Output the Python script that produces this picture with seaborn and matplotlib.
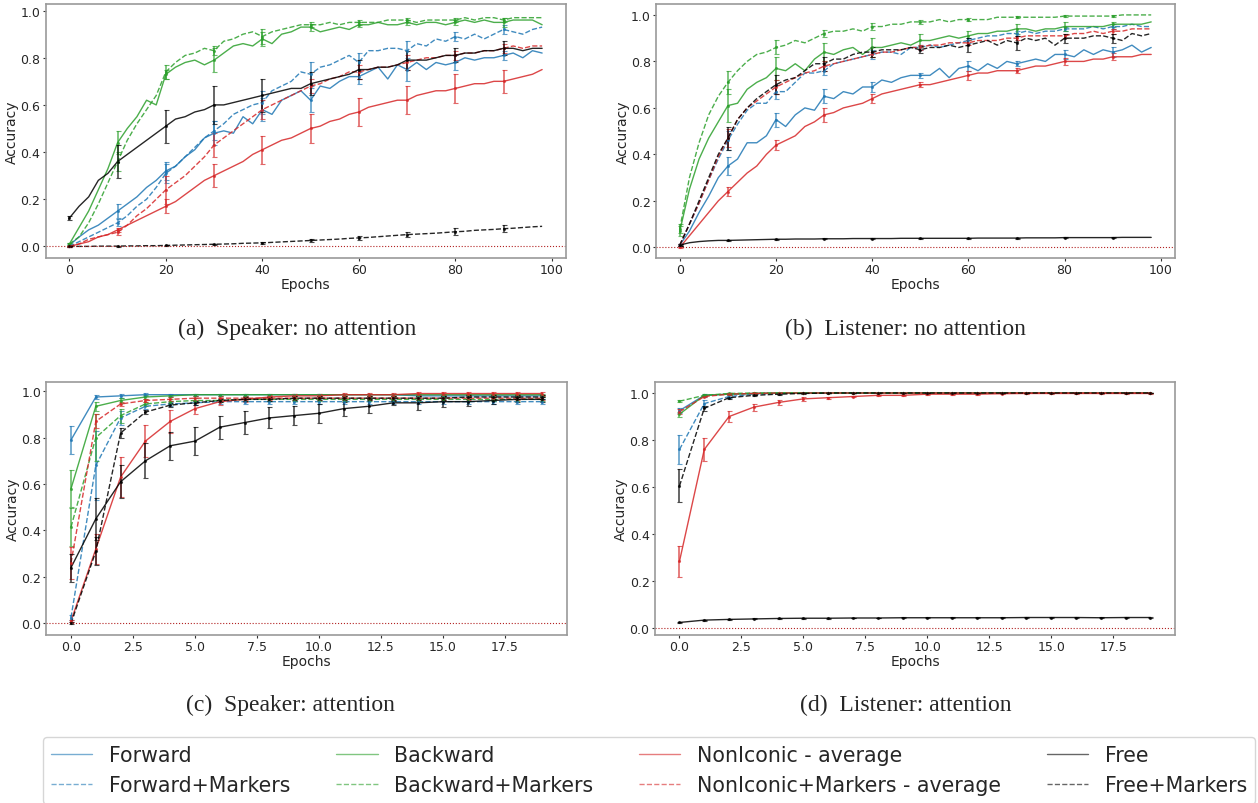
import numpy as np
import matplotlib
matplotlib.use('Agg')
import matplotlib.pyplot as plt
from matplotlib.lines import Line2D
import seaborn as sns

# ---- data ----
# panels (a)/(b): 100 epochs, sampled every 2 epochs; error bars every 10 epochs
epochs_long = np.arange(0, 100, 2)
bar_epochs_long = np.arange(0, 100, 10)
# panels (c)/(d): 20 epochs, error bars every epoch
epochs_short = np.arange(20)

# (a) Speaker: no attention
fwd_a = [0.005, 0.04, 0.07, 0.09, 0.12, 0.15, 0.18, 0.21, 0.25, 0.28,
         0.32, 0.34, 0.38, 0.41, 0.46, 0.48, 0.49, 0.48, 0.55, 0.52,
         0.58, 0.56, 0.62, 0.64, 0.66, 0.62, 0.68, 0.67, 0.70, 0.72,
         0.72, 0.74, 0.76, 0.71, 0.77, 0.75, 0.78, 0.75, 0.78, 0.77,
         0.78, 0.80, 0.79, 0.80, 0.80, 0.81, 0.82, 0.80, 0.83, 0.82]
fwdm_a = [0.0, 0.02, 0.04, 0.06, 0.08, 0.10, 0.13, 0.17, 0.20, 0.25,
          0.31, 0.34, 0.38, 0.42, 0.46, 0.49, 0.52, 0.56, 0.58, 0.60,
          0.61, 0.66, 0.68, 0.70, 0.74, 0.73, 0.76, 0.77, 0.79, 0.81,
          0.78, 0.83, 0.83, 0.84, 0.84, 0.83, 0.86, 0.85, 0.88, 0.87,
          0.89, 0.88, 0.90, 0.88, 0.90, 0.92, 0.91, 0.90, 0.92, 0.93]
bwd_a = [0.01, 0.08, 0.15, 0.24, 0.33, 0.44, 0.50, 0.55, 0.62, 0.60,
         0.73, 0.76, 0.78, 0.79, 0.77, 0.79, 0.82, 0.85, 0.86, 0.85,
         0.88, 0.86, 0.90, 0.91, 0.93, 0.93, 0.91, 0.92, 0.93, 0.92,
         0.94, 0.94, 0.95, 0.94, 0.94, 0.95, 0.94, 0.95, 0.95, 0.94,
         0.95, 0.96, 0.95, 0.96, 0.95, 0.95, 0.96, 0.96, 0.96, 0.94]
bwdm_a = [0.01, 0.04, 0.10, 0.18, 0.27, 0.36, 0.45, 0.52, 0.58, 0.64,
          0.74, 0.78, 0.81, 0.82, 0.84, 0.83, 0.87, 0.88, 0.90, 0.91,
          0.89, 0.91, 0.92, 0.93, 0.94, 0.94, 0.94, 0.95, 0.94, 0.95,
          0.95, 0.95, 0.95, 0.96, 0.96, 0.96, 0.95, 0.96, 0.96, 0.96,
          0.96, 0.97, 0.96, 0.97, 0.97, 0.96, 0.97, 0.97, 0.97, 0.97]
non_a = [0.0, 0.01, 0.02, 0.04, 0.05, 0.07, 0.09, 0.11, 0.13, 0.15,
         0.17, 0.19, 0.22, 0.25, 0.28, 0.30, 0.32, 0.34, 0.36, 0.39,
         0.41, 0.43, 0.45, 0.46, 0.48, 0.50, 0.51, 0.53, 0.54, 0.56,
         0.57, 0.59, 0.60, 0.61, 0.62, 0.62, 0.64, 0.65, 0.66, 0.66,
         0.67, 0.68, 0.69, 0.69, 0.70, 0.70, 0.71, 0.72, 0.73, 0.75]
nonm_a = [0.0, 0.01, 0.03, 0.04, 0.05, 0.06, 0.09, 0.13, 0.16, 0.20,
          0.24, 0.27, 0.30, 0.34, 0.38, 0.43, 0.46, 0.49, 0.52, 0.55,
          0.58, 0.60, 0.62, 0.64, 0.66, 0.68, 0.69, 0.71, 0.72, 0.74,
          0.74, 0.75, 0.76, 0.76, 0.77, 0.78, 0.79, 0.80, 0.80, 0.81,
          0.81, 0.82, 0.82, 0.83, 0.83, 0.84, 0.85, 0.84, 0.85, 0.85]
free_a = [0.12, 0.17, 0.21, 0.28, 0.31, 0.36, 0.39, 0.42, 0.45, 0.48,
          0.51, 0.54, 0.55, 0.57, 0.58, 0.60, 0.60, 0.61, 0.62, 0.63,
          0.64, 0.65, 0.66, 0.67, 0.67, 0.69, 0.70, 0.71, 0.72, 0.73,
          0.75, 0.75, 0.76, 0.76, 0.77, 0.79, 0.79, 0.79, 0.80, 0.81,
          0.81, 0.82, 0.82, 0.83, 0.83, 0.84, 0.84, 0.83, 0.84, 0.84]
freem_a = [0.0, 0.0, 0.0, 0.001, 0.001, 0.001, 0.002, 0.002, 0.003, 0.003,
           0.004, 0.005, 0.006, 0.007, 0.008, 0.009, 0.010, 0.011, 0.013, 0.014,
           0.015, 0.017, 0.019, 0.021, 0.023, 0.025, 0.027, 0.029, 0.031, 0.034,
           0.036, 0.038, 0.041, 0.044, 0.047, 0.050, 0.052, 0.054, 0.056, 0.059,
           0.062, 0.064, 0.068, 0.070, 0.072, 0.075, 0.077, 0.080, 0.083, 0.085]

fwd_a_err = [0.003, 0.03, 0.04, 0.05, 0.05, 0.05, 0.03, 0.05, 0.03, 0.02]
fwdm_a_err = [0.003, 0.015, 0.04, 0.04, 0.05, 0.05, 0.04, 0.04, 0.02, 0.02]
bwd_a_err = [0.005, 0.05, 0.02, 0.05, 0.03, 0.015, 0.01, 0.01, 0.01, 0.02]
bwdm_a_err = [0.005, 0.04, 0.03, 0.02, 0.03, 0.01, 0.01, 0.01, 0.01, 0.01]
non_a_err = [0.002, 0.01, 0.03, 0.05, 0.06, 0.06, 0.06, 0.06, 0.06, 0.05]
nonm_a_err = [0.002, 0.01, 0.06, 0.05, 0.04, 0.03, 0.03, 0.03, 0.02, 0.02]
free_a_err = [0.01, 0.07, 0.07, 0.08, 0.07, 0.05, 0.04, 0.04, 0.03, 0.03]
freem_a_err = [0.002, 0.002, 0.002, 0.003, 0.004, 0.005, 0.008, 0.01, 0.015, 0.015]

# (b) Listener: no attention
fwd_b = [0.01, 0.07, 0.15, 0.22, 0.30, 0.35, 0.38, 0.45, 0.45, 0.48,
         0.55, 0.52, 0.57, 0.60, 0.59, 0.65, 0.64, 0.67, 0.66, 0.69,
         0.69, 0.72, 0.71, 0.73, 0.74, 0.74, 0.74, 0.77, 0.73, 0.77,
         0.78, 0.76, 0.79, 0.77, 0.80, 0.79, 0.80, 0.81, 0.80, 0.83,
         0.83, 0.82, 0.85, 0.83, 0.85, 0.84, 0.85, 0.87, 0.84, 0.86]
fwdm_b = [0.01, 0.10, 0.19, 0.29, 0.38, 0.46, 0.53, 0.59, 0.62, 0.62,
          0.67, 0.67, 0.71, 0.75, 0.75, 0.76, 0.79, 0.80, 0.81, 0.82,
          0.83, 0.84, 0.84, 0.83, 0.86, 0.86, 0.87, 0.86, 0.87, 0.88,
          0.89, 0.90, 0.91, 0.91, 0.92, 0.92, 0.93, 0.92, 0.93, 0.93,
          0.94, 0.94, 0.94, 0.95, 0.94, 0.95, 0.95, 0.96, 0.95, 0.95]
bwd_b = [0.07, 0.25, 0.38, 0.47, 0.54, 0.61, 0.62, 0.68, 0.71, 0.73,
         0.77, 0.76, 0.79, 0.76, 0.81, 0.84, 0.83, 0.85, 0.86, 0.83,
         0.86, 0.86, 0.87, 0.88, 0.87, 0.89, 0.89, 0.90, 0.91, 0.90,
         0.91, 0.92, 0.92, 0.93, 0.93, 0.94, 0.94, 0.93, 0.94, 0.94,
         0.95, 0.95, 0.95, 0.95, 0.95, 0.96, 0.96, 0.96, 0.96, 0.97]
bwdm_b = [0.08, 0.30, 0.45, 0.57, 0.65, 0.71, 0.76, 0.80, 0.83, 0.84,
          0.86, 0.87, 0.89, 0.88, 0.90, 0.92, 0.93, 0.93, 0.94, 0.93,
          0.95, 0.95, 0.96, 0.96, 0.97, 0.97, 0.97, 0.98, 0.97, 0.98,
          0.98, 0.98, 0.98, 0.99, 0.99, 0.99, 0.99, 0.99, 0.99, 0.99,
          0.995, 0.995, 0.995, 0.995, 0.995, 0.995, 1.0, 1.0, 1.0, 1.0]
non_b = [0.0, 0.05, 0.10, 0.15, 0.20, 0.24, 0.28, 0.32, 0.35, 0.40,
         0.44, 0.46, 0.48, 0.52, 0.54, 0.57, 0.58, 0.60, 0.61, 0.62,
         0.64, 0.66, 0.67, 0.68, 0.69, 0.70, 0.70, 0.71, 0.72, 0.73,
         0.74, 0.75, 0.75, 0.76, 0.76, 0.76, 0.77, 0.78, 0.78, 0.79,
         0.80, 0.80, 0.80, 0.81, 0.81, 0.82, 0.82, 0.82, 0.83, 0.83]
nonm_b = [0.01, 0.10, 0.19, 0.29, 0.39, 0.47, 0.55, 0.60, 0.63, 0.66,
          0.69, 0.71, 0.73, 0.75, 0.76, 0.78, 0.79, 0.80, 0.81, 0.82,
          0.83, 0.84, 0.84, 0.85, 0.86, 0.86, 0.87, 0.87, 0.88, 0.88,
          0.88, 0.89, 0.89, 0.89, 0.90, 0.90, 0.91, 0.91, 0.91, 0.91,
          0.91, 0.92, 0.92, 0.93, 0.92, 0.93, 0.93, 0.94, 0.94, 0.94]
free_b = [0.01, 0.02, 0.025, 0.028, 0.030, 0.030, 0.031, 0.032, 0.033, 0.034,
          0.035, 0.035, 0.036, 0.036, 0.036, 0.037, 0.037, 0.037, 0.038, 0.038,
          0.038, 0.038, 0.038, 0.039, 0.039, 0.039, 0.039, 0.039, 0.039, 0.039,
          0.039, 0.040, 0.040, 0.040, 0.040, 0.040, 0.041, 0.041, 0.041, 0.041,
          0.042, 0.042, 0.042, 0.042, 0.042, 0.042, 0.043, 0.043, 0.043, 0.043]
freem_b = [0.01, 0.10, 0.20, 0.30, 0.40, 0.47, 0.55, 0.60, 0.64, 0.67,
           0.70, 0.72, 0.73, 0.76, 0.79, 0.79, 0.81, 0.81, 0.83, 0.84,
           0.84, 0.85, 0.85, 0.85, 0.86, 0.85, 0.86, 0.86, 0.87, 0.86,
           0.87, 0.88, 0.89, 0.87, 0.89, 0.88, 0.90, 0.89, 0.90, 0.87,
           0.90, 0.90, 0.90, 0.91, 0.91, 0.90, 0.89, 0.92, 0.91, 0.92]

fwd_b_err = [0.005, 0.04, 0.03, 0.03, 0.02, 0.01, 0.02, 0.01, 0.02, 0.02]
fwdm_b_err = [0.005, 0.04, 0.03, 0.02, 0.02, 0.01, 0.01, 0.01, 0.01, 0.01]
bwd_b_err = [0.02, 0.07, 0.05, 0.04, 0.04, 0.03, 0.02, 0.02, 0.02, 0.01]
bwdm_b_err = [0.02, 0.05, 0.03, 0.015, 0.015, 0.008, 0.008, 0.005, 0.005, 0.005]
non_b_err = [0.003, 0.02, 0.02, 0.03, 0.02, 0.01, 0.02, 0.01, 0.015, 0.015]
nonm_b_err = [0.005, 0.04, 0.03, 0.02, 0.01, 0.01, 0.01, 0.01, 0.01, 0.01]
free_b_err = [0.002, 0.002, 0.002, 0.002, 0.002, 0.002, 0.002, 0.002, 0.002, 0.002]
freem_b_err = [0.005, 0.05, 0.04, 0.03, 0.02, 0.015, 0.03, 0.03, 0.02, 0.02]

# (c) Speaker: attention
fwd_c = [0.79, 0.975, 0.98, 0.985, 0.985, 0.985, 0.985, 0.985, 0.985, 0.985,
         0.985, 0.985, 0.985, 0.985, 0.98, 0.98, 0.98, 0.98, 0.98, 0.98]
fwdm_c = [0.025, 0.68, 0.885, 0.935, 0.945, 0.95, 0.955, 0.955, 0.955, 0.955,
          0.955, 0.955, 0.955, 0.955, 0.955, 0.955, 0.955, 0.955, 0.955, 0.955]
bwd_c = [0.58, 0.935, 0.96, 0.975, 0.98, 0.985, 0.985, 0.985, 0.985, 0.985,
         0.985, 0.985, 0.985, 0.985, 0.985, 0.985, 0.985, 0.985, 0.985, 0.985]
bwdm_c = [0.415, 0.80, 0.895, 0.945, 0.955, 0.96, 0.96, 0.965, 0.965, 0.965,
          0.965, 0.965, 0.965, 0.965, 0.965, 0.965, 0.965, 0.965, 0.965, 0.965]
non_c = [0.01, 0.32, 0.63, 0.785, 0.87, 0.925, 0.955, 0.965, 0.975, 0.98,
         0.98, 0.985, 0.985, 0.985, 0.99, 0.99, 0.99, 0.99, 0.99, 0.99]
nonm_c = [0.26, 0.87, 0.945, 0.96, 0.965, 0.97, 0.97, 0.97, 0.97, 0.97,
          0.97, 0.97, 0.97, 0.97, 0.97, 0.97, 0.97, 0.97, 0.97, 0.97]
free_c = [0.24, 0.45, 0.61, 0.70, 0.765, 0.785, 0.845, 0.865, 0.885, 0.895,
          0.905, 0.925, 0.935, 0.95, 0.95, 0.955, 0.955, 0.96, 0.965, 0.965]
freem_c = [0.0, 0.31, 0.82, 0.91, 0.94, 0.95, 0.96, 0.965, 0.965, 0.97,
           0.97, 0.97, 0.97, 0.97, 0.97, 0.97, 0.975, 0.975, 0.975, 0.975]

fwd_c_err = [0.06, 0.01, 0.008, 0.006, 0.005, 0.005, 0.005, 0.005, 0.005, 0.005,
             0.005, 0.005, 0.005, 0.005, 0.005, 0.005, 0.005, 0.005, 0.005, 0.005]
fwdm_c_err = [0.01, 0.15, 0.03, 0.01, 0.01, 0.01, 0.01, 0.01, 0.01, 0.01,
              0.01, 0.01, 0.01, 0.01, 0.01, 0.01, 0.01, 0.01, 0.01, 0.01]
bwd_c_err = [0.08, 0.02, 0.01, 0.008, 0.005, 0.005, 0.005, 0.005, 0.005, 0.005,
             0.005, 0.005, 0.005, 0.005, 0.005, 0.005, 0.005, 0.005, 0.005, 0.005]
bwdm_c_err = [0.08, 0.10, 0.03, 0.01, 0.01, 0.01, 0.008, 0.008, 0.008, 0.008,
              0.008, 0.008, 0.008, 0.008, 0.008, 0.008, 0.008, 0.008, 0.008, 0.008]
non_c_err = [0.005, 0.065, 0.085, 0.07, 0.05, 0.025, 0.015, 0.01, 0.01, 0.008,
             0.008, 0.006, 0.006, 0.006, 0.005, 0.005, 0.005, 0.005, 0.005, 0.005]
nonm_c_err = [0.07, 0.03, 0.01, 0.008, 0.008, 0.008, 0.008, 0.008, 0.008, 0.008,
              0.008, 0.008, 0.008, 0.008, 0.008, 0.008, 0.008, 0.008, 0.008, 0.008]
free_c_err = [0.06, 0.09, 0.07, 0.075, 0.06, 0.06, 0.05, 0.05, 0.045, 0.04,
              0.04, 0.03, 0.03, 0.01, 0.03, 0.025, 0.02, 0.015, 0.01, 0.01]
freem_c_err = [0.005, 0.06, 0.02, 0.01, 0.01, 0.01, 0.008, 0.008, 0.008, 0.008,
               0.008, 0.008, 0.008, 0.008, 0.008, 0.008, 0.008, 0.008, 0.008, 0.008]

# (d) Listener: attention
fwd_d = [0.925, 0.99, 0.995, 0.998, 1.0, 1.0, 1.0, 1.0, 1.0, 1.0,
         1.0, 1.0, 1.0, 1.0, 1.0, 1.0, 1.0, 1.0, 1.0, 1.0]
fwdm_d = [0.76, 0.955, 0.985, 0.995, 0.998, 1.0, 1.0, 1.0, 1.0, 1.0,
          1.0, 1.0, 1.0, 1.0, 1.0, 1.0, 1.0, 1.0, 1.0, 1.0]
bwd_d = [0.91, 0.99, 0.995, 0.998, 1.0, 1.0, 1.0, 1.0, 1.0, 1.0,
         1.0, 1.0, 1.0, 1.0, 1.0, 1.0, 1.0, 1.0, 1.0, 1.0]
bwdm_d = [0.965, 0.99, 0.998, 1.0, 1.0, 1.0, 1.0, 1.0, 1.0, 1.0,
          1.0, 1.0, 1.0, 1.0, 1.0, 1.0, 1.0, 1.0, 1.0, 1.0]
non_d = [0.285, 0.76, 0.90, 0.94, 0.96, 0.975, 0.98, 0.985, 0.99, 0.99,
         0.995, 0.995, 0.995, 0.997, 0.998, 0.998, 0.998, 0.998, 0.998, 0.998]
nonm_d = [0.92, 0.985, 0.995, 0.998, 1.0, 1.0, 1.0, 1.0, 1.0, 1.0,
          1.0, 1.0, 1.0, 1.0, 1.0, 1.0, 1.0, 1.0, 1.0, 1.0]
free_d = [0.025, 0.035, 0.038, 0.040, 0.042, 0.043, 0.043, 0.044, 0.044, 0.045,
          0.045, 0.045, 0.045, 0.045, 0.046, 0.046, 0.046, 0.045, 0.046, 0.046]
freem_d = [0.605, 0.935, 0.98, 0.99, 0.995, 0.998, 1.0, 1.0, 1.0, 1.0,
           1.0, 1.0, 1.0, 1.0, 1.0, 1.0, 1.0, 1.0, 1.0, 1.0]

fwd_d_err = [0.01, 0.005, 0.003, 0.002, 0.002, 0.002, 0.002, 0.002, 0.002, 0.002,
             0.002, 0.002, 0.002, 0.002, 0.002, 0.002, 0.002, 0.002, 0.002, 0.002]
fwdm_d_err = [0.06, 0.015, 0.005, 0.003, 0.002, 0.002, 0.002, 0.002, 0.002, 0.002,
              0.002, 0.002, 0.002, 0.002, 0.002, 0.002, 0.002, 0.002, 0.002, 0.002]
bwd_d_err = [0.01, 0.004, 0.003, 0.002, 0.002, 0.002, 0.002, 0.002, 0.002, 0.002,
             0.002, 0.002, 0.002, 0.002, 0.002, 0.002, 0.002, 0.002, 0.002, 0.002]
bwdm_d_err = [0.005, 0.003, 0.002, 0.002, 0.002, 0.002, 0.002, 0.002, 0.002, 0.002,
              0.002, 0.002, 0.002, 0.002, 0.002, 0.002, 0.002, 0.002, 0.002, 0.002]
non_d_err = [0.065, 0.05, 0.025, 0.015, 0.01, 0.008, 0.005, 0.004, 0.003, 0.003,
             0.002, 0.002, 0.002, 0.002, 0.002, 0.002, 0.002, 0.002, 0.002, 0.002]
nonm_d_err = [0.01, 0.004, 0.003, 0.002, 0.002, 0.002, 0.002, 0.002, 0.002, 0.002,
              0.002, 0.002, 0.002, 0.002, 0.002, 0.002, 0.002, 0.002, 0.002, 0.002]
free_d_err = [0.002, 0.002, 0.002, 0.002, 0.002, 0.002, 0.002, 0.002, 0.002, 0.002,
              0.002, 0.002, 0.002, 0.002, 0.002, 0.002, 0.002, 0.002, 0.002, 0.002]
freem_d_err = [0.07, 0.01, 0.005, 0.003, 0.002, 0.002, 0.002, 0.002, 0.002, 0.002,
               0.002, 0.002, 0.002, 0.002, 0.002, 0.002, 0.002, 0.002, 0.002, 0.002]

series_labels = ['Forward', 'Forward+Markers', 'Backward', 'Backward+Markers',
                 'NonIconic - average', 'NonIconic+Markers - average',
                 'Free', 'Free+Markers']
series_colors = ['#1f77b4', '#1f77b4', '#2ca02c', '#2ca02c',
                 '#d62728', '#d62728', 'black', 'black']
series_styles = ['-', '--', '-', '--', '-', '--', '-', '--']

captions = ['(a)  Speaker: no attention', '(b)  Listener: no attention',
            '(c)  Speaker: attention', '(d)  Listener: attention']

panels = [
    dict(x=epochs_long, bx=bar_epochs_long, step=5,
         ys=[fwd_a, fwdm_a, bwd_a, bwdm_a, non_a, nonm_a, free_a, freem_a],
         errs=[fwd_a_err, fwdm_a_err, bwd_a_err, bwdm_a_err, non_a_err, nonm_a_err, free_a_err, freem_a_err],
         box=(45.5, 5, 566, 258.7), ylim=(-0.048, 1.028), xticks=None),
    dict(x=epochs_long, bx=bar_epochs_long, step=5,
         ys=[fwd_b, fwdm_b, bwd_b, bwdm_b, non_b, nonm_b, free_b, freem_b],
         errs=[fwd_b_err, fwdm_b_err, bwd_b_err, bwdm_b_err, non_b_err, nonm_b_err, free_b_err, freem_b_err],
         box=(656, 5, 1175, 259.3), ylim=(-0.047, 1.047), xticks=None),
    dict(x=epochs_short, bx=epochs_short, step=1,
         ys=[fwd_c, fwdm_c, bwd_c, bwdm_c, non_c, nonm_c, free_c, freem_c],
         errs=[fwd_c_err, fwdm_c_err, bwd_c_err, bwdm_c_err, non_c_err, nonm_c_err, free_c_err, freem_c_err],
         box=(46.2, 382.7, 567, 635.7), ylim=(-0.049, 1.041), xticks=np.arange(0, 20, 2.5)),
    dict(x=epochs_short, bx=epochs_short, step=1,
         ys=[fwd_d, fwdm_d, bwd_d, bwdm_d, non_d, nonm_d, free_d, freem_d],
         errs=[fwd_d_err, fwdm_d_err, bwd_d_err, bwdm_d_err, non_d_err, nonm_d_err, free_d_err, freem_d_err],
         box=(654.7, 382.7, 1175.2, 635.7), ylim=(-0.027, 1.048), xticks=np.arange(0, 20, 2.5)),
]
caption_pos = [(297, 329), (905, 329), (290, 705), (906, 705)]

# ---- plotting ----
sns.set_style('white')
plt.rcParams['font.family'] = ['DejaVu Sans']

W, H = 1258, 804
fig = plt.figure(figsize=(W / 100, H / 100), dpi=100)

for p, cap, (cx, cy) in zip(panels, captions, caption_pos):
    l, t, r, b = p['box']
    ax = fig.add_axes([l / W, 1 - b / H, (r - l) / W, (b - t) / H])
    for y, err, c, ls in zip(p['ys'], p['errs'], series_colors, series_styles):
        sns.lineplot(x=p['x'], y=y, ax=ax, color=c, linestyle=ls, linewidth=1.0, alpha=0.85)
        ax.errorbar(p['bx'], np.asarray(y)[::p['step']], yerr=err, fmt='.', markersize=2.5,
                    color=c, ecolor=c, elinewidth=1.2, capsize=1.8, capthick=0.8, alpha=0.7)
    ax.axhline(0, color='firebrick', linestyle=':', linewidth=0.8)
    ax.set_ylim(*p['ylim'])
    span = p['x'][-1] + 1 - p['x'][0]
    ax.set_xlim(p['x'][0] - 0.05 * span, p['x'][-1] + 0.05 * span)
    ax.set_yticks([0.0, 0.2, 0.4, 0.6, 0.8, 1.0])
    if p['xticks'] is not None:
        ax.set_xticks(p['xticks'])
    ax.set_xlabel('Epochs', fontsize=10, labelpad=0.5)
    ax.set_ylabel('Accuracy', fontsize=10, labelpad=1)
    ax.tick_params(axis='both', labelsize=9, length=2.5, width=0.8, pad=1.2,
                   bottom=True, left=True, color='#333333')
    for s in ax.spines.values():
        s.set_color('#9a9a9a')
        s.set_linewidth(1.2)
    fig.text(cx / W, 1 - cy / H, cap, ha='center', va='center',
             family='Liberation Serif', fontsize=17)

handles = [Line2D([], [], color=c, linestyle=ls, linewidth=1.0, alpha=0.6)
           for c, ls in zip(series_colors, series_styles)]
fig.legend(handles, series_labels, loc='upper left', bbox_to_anchor=(43 / W, 1 - 738 / H),
           borderaxespad=0, ncol=4, fontsize=14.8, frameon=True, edgecolor='#cccccc',
           fancybox=True, borderpad=0.4, handlelength=2.0, handletextpad=0.8,
           columnspacing=2.25, labelspacing=0.5)

fig.savefig('out.png', dpi=100)
